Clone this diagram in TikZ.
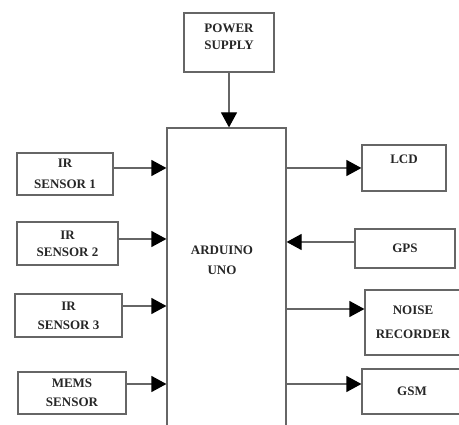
\documentclass[tikz,border=0pt]{standalone}
\usepackage{fontspec}
\setmainfont{Liberation Serif}
\usetikzlibrary{arrows.meta,calc}

\begin{document}
\begin{tikzpicture}[x=1pt, y=-1pt,
    blk/.style={draw=black!60, line width=1.2pt, align=center, inner sep=0pt,
        font=\bfseries\fontsize{13}{17}\selectfont, text=black!85},
    arr/.style={draw=black!60, line width=1.2pt,
        -{Triangle[length=15pt,width=16pt,fill=black,color=black]}}]

    % 枠
    \clip (0,0) rectangle (459,425);

    % 中央のブロック
    \node[blk, minimum width=119, minimum height=332] (arduino) at (226.5,294) {};
    \node[font=\bfseries\fontsize{13}{20}\selectfont, text=black!85, align=center] (arduinotxt) at (222,260) {ARDUINO\\UNO};

    % 電源
    \node[blk, minimum width=90, minimum height=59] (power) at (229,42.5) {POWER\\SUPPLY\\[-6pt]\mbox{}};

    % 入力側
    \node[blk, minimum width=96, minimum height=42] (ir1) at (65,174) {IR\\[4pt]SENSOR 1};
    \node[blk, minimum width=101, minimum height=43] (ir2) at (67.5,243.5) {IR\\SENSOR 2};
    \node[blk, minimum width=107, minimum height=43] (ir3) at (68.5,315.5) {IR\\[2pt]SENSOR 3};
    \node[blk, minimum width=108, minimum height=42] (mems) at (72,393) {MEMS\\[2pt]SENSOR};

    % 出力側
    \node[blk, minimum width=84, minimum height=46] (lcd) at (404,168) {LCD\\\mbox{}};
    \node[blk, minimum width=100, minimum height=39] (gps) at (405,248.5) {GPS};
    \node[blk, minimum width=96, minimum height=65] (noise) at (413,322.5) {NOISE\\[7pt]RECORDER};
    \node[blk, minimum width=100, minimum height=45] (gsm) at (412,391.5) {GSM};

    % 矢印
    \draw[arr] (power.south) -- (power.south |- arduino.north);
    \draw[arr] ([yshift=6pt]ir1.east) -- ([yshift=6pt]ir1.east -| arduino.west);
    \draw[arr] ([yshift=4.5pt]ir2.east) -- ([yshift=4.5pt]ir2.east -| arduino.west);
    \draw[arr] ([yshift=9.5pt]ir3.east) -- ([yshift=9.5pt]ir3.east -| arduino.west);
    \draw[arr] ([yshift=9pt]mems.east) -- ([yshift=9pt]mems.east -| arduino.west);
    \draw[arr] (lcd.west -| arduino.east) -- (lcd.west);
    \draw[arr] ([yshift=6.5pt]gps.west) -- ([yshift=6.5pt]gps.west -| arduino.east);
    \draw[arr] ([yshift=13.5pt]noise.west -| arduino.east) -- ([yshift=13.5pt]noise.west);
    \draw[arr] ([yshift=7.5pt]gsm.west -| arduino.east) -- ([yshift=7.5pt]gsm.west);

\end{tikzpicture}
\end{document}
